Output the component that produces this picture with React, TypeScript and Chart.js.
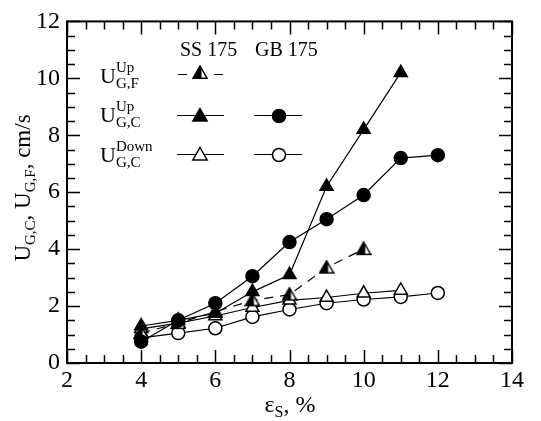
import React, { useEffect, useRef } from "react";
import { Chart, registerables } from "chart.js";

Chart.register(...registerables);

const xSSUpF = [4, 5, 6, 7, 8, 9, 10];
const ySSUpF = [1.05, 1.4, 1.8, 2.2, 2.4, 3.35, 4.0];
const xSSUpC = [4, 5, 6, 7, 8, 9, 10, 11];
const ySSUpC = [1.3, 1.5, 1.75, 2.5, 3.1, 6.2, 8.2, 10.2];
const xGBUpC = [4, 5, 6, 7, 8, 9, 10, 11, 12];
const yGBUpC = [0.75, 1.5, 2.1, 3.05, 4.25, 5.05, 5.9, 7.2, 7.3];
const xSSDownC = [4, 5, 6, 7, 8, 9, 10, 11];
const ySSDownC = [1.2, 1.4, 1.65, 1.95, 2.2, 2.3, 2.45, 2.55];
const xGBDownC = [4, 5, 6, 7, 8, 9, 10, 11, 12];
const yGBDownC = [0.88, 1.05, 1.22, 1.62, 1.88, 2.1, 2.23, 2.32, 2.46];

const xTicks = [2, 4, 6, 8, 10, 12, 14];
const yTicks = [0, 2, 4, 6, 8, 10, 12];

const FONT = '"Liberation Serif", "Times New Roman", serif';

function pts(xs: number[], ys: number[]) {
  return xs.map((x, i) => ({ x, y: ys[i] }));
}

function makeHalfTriangle(size: number) {
  const c = document.createElement("canvas");
  c.width = size;
  c.height = size;
  const g = c.getContext("2d")!;
  const h = size - 2;
  const top = { x: size / 2, y: 1 };
  const bl = { x: 1, y: 1 + h * 0.87 };
  const br = { x: size - 1, y: 1 + h * 0.87 };
  g.beginPath();
  g.moveTo(top.x, top.y);
  g.lineTo(br.x, br.y);
  g.lineTo(bl.x, bl.y);
  g.closePath();
  g.fillStyle = "#fff";
  g.fill();
  g.beginPath();
  g.moveTo(top.x, top.y);
  g.lineTo(top.x + 1.5, top.y + 3);
  g.lineTo(top.x + 1.5, bl.y);
  g.lineTo(bl.x, bl.y);
  g.closePath();
  g.fillStyle = "#000";
  g.fill();
  g.beginPath();
  g.moveTo(top.x, top.y);
  g.lineTo(br.x, br.y);
  g.lineTo(bl.x, bl.y);
  g.closePath();
  g.lineWidth = 1.5;
  g.strokeStyle = "#000";
  g.stroke();
  return c;
}

type Part = { t: string; size: number; dy: number };

function drawRich(ctx: CanvasRenderingContext2D, parts: Part[], x: number, y: number, center: boolean) {
  let w = 0;
  for (const p of parts) {
    ctx.font = `${p.size}px ${FONT}`;
    w += ctx.measureText(p.t).width;
  }
  let cx = center ? x - w / 2 : x;
  ctx.textAlign = "left";
  ctx.textBaseline = "alphabetic";
  for (const p of parts) {
    ctx.font = `${p.size}px ${FONT}`;
    ctx.fillText(p.t, cx, y + p.dy);
    cx += ctx.measureText(p.t).width;
  }
}

function drawUSymbol(ctx: CanvasRenderingContext2D, x: number, y: number, sup: string, sub: string) {
  ctx.font = `22px ${FONT}`;
  ctx.textAlign = "left";
  ctx.textBaseline = "alphabetic";
  ctx.fillText("U", x, y);
  const w = ctx.measureText("U").width;
  ctx.font = `15px ${FONT}`;
  ctx.fillText(sup, x + w, y - 11);
  ctx.fillText(sub, x + w, y + 5);
}

function drawTri(ctx: CanvasRenderingContext2D, x: number, y: number, r: number, fill: string) {
  ctx.beginPath();
  ctx.moveTo(x, y - r);
  ctx.lineTo(x + r * 0.95, y + r * 0.65);
  ctx.lineTo(x - r * 0.95, y + r * 0.65);
  ctx.closePath();
  ctx.fillStyle = fill;
  ctx.fill();
  ctx.lineWidth = 1.5;
  ctx.strokeStyle = "#000";
  ctx.stroke();
}

function drawCirc(ctx: CanvasRenderingContext2D, x: number, y: number, r: number, fill: string) {
  ctx.beginPath();
  ctx.arc(x, y, r, 0, Math.PI * 2);
  ctx.fillStyle = fill;
  ctx.fill();
  ctx.lineWidth = 1.5;
  ctx.strokeStyle = "#000";
  ctx.stroke();
}

const decorPlugin = {
  id: "decor",
  afterDraw(chart: any) {
    const ctx: CanvasRenderingContext2D = chart.ctx;
    const xs = chart.scales.x;
    const ys = chart.scales.y;
    const { left, right, top, bottom } = chart.chartArea;
    ctx.save();
    ctx.strokeStyle = "#000";
    ctx.fillStyle = "#000";
    ctx.lineWidth = 2;
    ctx.strokeRect(left, top, right - left, bottom - top);
    ctx.lineWidth = 1.5;
    ctx.beginPath();
    for (let v = 2; v <= 14.001; v += 0.5) {
      const px = Math.round(xs.getPixelForValue(v)) + 0.5;
      const len = Math.abs(v % 2) < 1e-6 ? 13 : 8;
      ctx.moveTo(px, bottom);
      ctx.lineTo(px, bottom - len);
      ctx.moveTo(px, top);
      ctx.lineTo(px, top + len);
    }
    for (let v = 0; v <= 12.001; v += 0.5) {
      const py = Math.round(ys.getPixelForValue(v)) + 0.5;
      const len = Math.abs(v % 2) < 1e-6 ? 13 : 8;
      ctx.moveTo(left, py);
      ctx.lineTo(left + len, py);
      ctx.moveTo(right, py);
      ctx.lineTo(right - len, py);
    }
    ctx.stroke();

    ctx.fillStyle = "#000";
    ctx.font = `20px ${FONT}`;
    ctx.textAlign = "left";
    ctx.textBaseline = "alphabetic";
    ctx.fillText("SS 175", 180, 56);
    ctx.fillText("GB 175", 255, 56);

    drawUSymbol(ctx, 100, 83, "Up", "G,F");
    drawUSymbol(ctx, 100, 122, "Up", "G,C");
    drawUSymbol(ctx, 100, 162, "Down", "G,C");

    ctx.lineWidth = 1.2;
    ctx.strokeStyle = "#000";
    ctx.beginPath();
    ctx.moveTo(178, 74.5);
    ctx.lineTo(187, 74.5);
    ctx.moveTo(214, 74.5);
    ctx.lineTo(223, 74.5);
    ctx.stroke();
    const half = chart.$halfTri as HTMLCanvasElement;
    if (half) ctx.drawImage(half, 200 - half.width / 2, 74 - half.height / 2 - 1);
    ctx.lineWidth = 1.2;
    ctx.beginPath();
    ctx.moveTo(177, 115.5);
    ctx.lineTo(224, 115.5);
    ctx.moveTo(254, 115.5);
    ctx.lineTo(302, 115.5);
    ctx.stroke();
    drawTri(ctx, 200, 116, 7.5, "#000");
    drawCirc(ctx, 279, 116, 6.5, "#000");
    ctx.lineWidth = 1.2;
    ctx.beginPath();
    ctx.moveTo(177, 154.5);
    ctx.lineTo(224, 154.5);
    ctx.moveTo(254, 154.5);
    ctx.lineTo(302, 154.5);
    ctx.stroke();
    drawTri(ctx, 200, 155, 7.5, "#fff");
    drawCirc(ctx, 279, 155, 6.5, "#fff");

    ctx.fillStyle = "#000";
    drawRich(
      ctx,
      [
        { t: "ε", size: 24, dy: 0 },
        { t: "S", size: 16, dy: 5 },
        { t: ", %", size: 24, dy: 0 },
      ],
      290,
      412,
      true
    );
    ctx.save();
    ctx.translate(30, 188);
    ctx.rotate(-Math.PI / 2);
    drawRich(
      ctx,
      [
        { t: "U", size: 23, dy: 0 },
        { t: "G,C", size: 15, dy: 5 },
        { t: ", U", size: 23, dy: 0 },
        { t: "G,F", size: 15, dy: 5 },
        { t: ", cm/s", size: 23, dy: 0 },
      ],
      0,
      0,
      true
    );
    ctx.restore();
    ctx.restore();
  },
};

export default function App() {
  const ref = useRef<HTMLCanvasElement | null>(null);
  useEffect(() => {
    if (!ref.current) return;
    let chart: any = null;
    let cancelled = false;
    const build = () => {
      if (cancelled || !ref.current) return;
      const halfTri = makeHalfTriangle(16);
      const line = (data: any[], opts: any) => ({
        data,
        showLine: true,
        borderColor: "#000",
        borderWidth: 1.2,
        pointBorderColor: "#000",
        pointBorderWidth: 1.5,
        tension: 0,
        ...opts,
      });
      chart = new Chart(ref.current, {
        type: "scatter",
        data: {
          datasets: [
            line(pts(xGBUpC, yGBUpC), { pointStyle: "circle", pointRadius: 6.5, pointBackgroundColor: "#000" }),
            line(pts(xSSUpC, ySSUpC), { pointStyle: "triangle", pointRadius: 7.5, pointBackgroundColor: "#000" }),
            line(pts(xSSUpF, ySSUpF), { pointStyle: halfTri, borderDash: [9, 7] }),
            line(pts(xSSDownC, ySSDownC), { pointStyle: "triangle", pointRadius: 7.5, pointBackgroundColor: "#fff" }),
            line(pts(xGBDownC, yGBDownC), { pointStyle: "circle", pointRadius: 6.5, pointBackgroundColor: "#fff" }),
          ],
        },
        options: {
          animation: false,
          responsive: true,
          maintainAspectRatio: false,
          layout: { padding: { top: 17, right: 29, left: 0, bottom: 0 } },
          plugins: { legend: { display: false }, tooltip: { enabled: false } },
          scales: {
            x: {
              type: "linear",
              min: 2,
              max: 14,
              afterBuildTicks: (s: any) => {
                s.ticks = xTicks.map((v) => ({ value: v }));
              },
              afterFit: (s: any) => {
                s.height = 58;
              },
              grid: { display: false, drawTicks: false },
              border: { display: false },
              ticks: { color: "#000", font: { family: FONT, size: 24 }, padding: 3, maxRotation: 0 },
            },
            y: {
              type: "linear",
              min: 0,
              max: 12,
              afterBuildTicks: (s: any) => {
                s.ticks = yTicks.map((v) => ({ value: v }));
              },
              afterFit: (s: any) => {
                s.width = 67;
              },
              grid: { display: false, drawTicks: false },
              border: { display: false },
              ticks: { color: "#000", font: { family: FONT, size: 24 }, padding: 7 },
            },
          },
        },
        plugins: [decorPlugin],
      } as any);
      chart.$halfTri = halfTri;
      chart.draw();
    };
    const fonts: any = (document as any).fonts;
    if (fonts && fonts.load) {
      Promise.all([
        fonts.load('22px "Liberation Serif"'),
        fonts.load('15px "Liberation Serif"'),
      ])
        .catch(() => null)
        .then(build);
    } else {
      build();
    }
    return () => {
      cancelled = true;
      if (chart) chart.destroy();
    };
  }, []);
  return (
    <div style={{ position: "absolute", left: 0, top: 0, width: 541, height: 421, background: "#fff" }}>
      <canvas ref={ref} />
    </div>
  );
}
